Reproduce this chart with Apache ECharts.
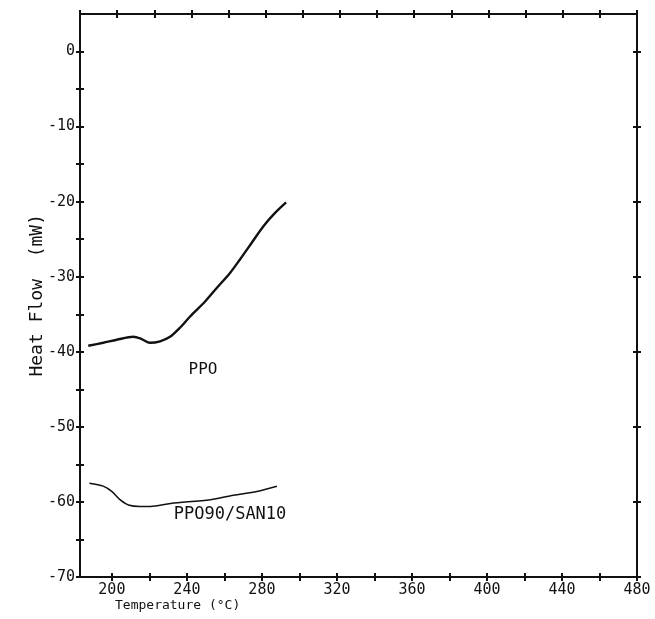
<!DOCTYPE html>
<html>
<head>
<meta charset="utf-8">
<script src="https://cdn.jsdelivr.net/npm/echarts@6/dist/echarts.min.js"></script>
<style>
html,body{margin:0;padding:0;background:#fff;}
#chart{width:655px;height:619px;}
</style>
</head>
<body>
<div id="chart"></div>
<script>
// ---- data ----
const ppoTemp = [187.4, 195.4, 202.6, 211.4, 215.9, 220.3, 225.7, 231.0, 236.3, 241.7, 249.7, 255.9, 263.0, 268.3, 274.5, 280.7, 287.0, 292.9];
const ppoFlow = [-39.2, -38.8, -38.4, -38.0, -38.3, -38.8, -38.6, -38.0, -36.8, -35.3, -33.3, -31.5, -29.5, -27.7, -25.5, -23.3, -21.5, -20.1];
const blendTemp = [188.0, 195.4, 199.9, 204.3, 208.8, 215.0, 220.6, 231.3, 252.6, 264.8, 277.3, 288.0];
const blendFlow = [-57.5, -57.9, -58.6, -59.7, -60.4, -60.6, -60.6, -60.2, -59.7, -59.1, -58.6, -57.9];
const xLabelValues = [200, 240, 280, 320, 360, 400, 440, 480];
const xTickValues = [200, 220, 240, 260, 280, 300, 320, 340, 360, 380, 400, 420, 440, 460, 480];
const xTopTickValues = [183, 202.8, 222.6, 242.4, 262.2, 282, 301.8, 321.6, 341.4, 361.2, 381, 400.8, 420.6, 440.4, 460.2, 480];
const yLabelValues = [-70, -60, -50, -40, -30, -20, -10, 0];
const yTickValues = [-70, -65, -60, -55, -50, -45, -40, -35, -30, -25, -20, -15, -10, -5, 0];
const yRightTickValues = [-70, -60, -50, -40, -30, -20, -10, 0];
const seriesNames = ['PPO', 'PPO90/SAN10'];
const labelPos = [[248.6, -42.4], [263, -61.7]];
const xRange = [183, 480];
const yRange = [-70, 5];

const font = 'DejaVu Sans Mono';
const ink = '#111';

function pairs(xs, ys) { return xs.map((x, i) => [x, ys[i]]); }

function xAx(pos, inside, showLine, ticks, labels) {
  return {
    type: 'value', position: pos, min: xRange[0], max: xRange[1],
    axisLine: { show: showLine, onZero: false, lineStyle: { color: ink, width: 2 } },
    axisTick: { show: true, inside: inside, length: 4, customValues: ticks, lineStyle: { color: ink, width: 2 } },
    axisLabel: labels ? { show: true, customValues: labels, color: ink, fontFamily: font, fontSize: 15, margin: 6 } : { show: false },
    splitLine: { show: false }
  };
}
function yAx(pos, inside, showLine, ticks, labels) {
  return {
    type: 'value', position: pos, min: yRange[0], max: yRange[1],
    axisLine: { show: showLine, onZero: false, lineStyle: { color: ink, width: 2 } },
    axisTick: { show: true, inside: inside, length: 4, customValues: ticks, lineStyle: { color: ink, width: 2 } },
    axisLabel: labels ? { show: true, customValues: labels, color: ink, fontFamily: font, fontSize: 15, margin: 5 } : { show: false },
    splitLine: { show: false }
  };
}

function seriesLabel(name, pos, size) {
  return {
    symbol: 'circle', symbolSize: 1, itemStyle: { color: 'rgba(0,0,0,0)' },
    data: [{ coord: pos, label: { show: true, position: 'inside', formatter: name, color: ink, fontFamily: font, fontSize: size } }]
  };
}

const chart = echarts.init(document.getElementById('chart'), null, { renderer: 'canvas' });
chart.setOption({
  backgroundColor: '#fff',
  animation: false,
  grid: { left: 80, right: 18, top: 14, bottom: 42, containLabel: false },
  xAxis: [
    xAx('bottom', false, true, xTickValues, xLabelValues),
    xAx('bottom', true, false, xTickValues, null),
    xAx('top', false, true, xTopTickValues, null),
    xAx('top', true, false, xTopTickValues, null)
  ],
  yAxis: [
    yAx('left', false, true, yTickValues, yLabelValues),
    yAx('left', true, false, yTickValues, null),
    yAx('right', false, true, yRightTickValues, null),
    yAx('right', true, false, yRightTickValues, null)
  ],
  graphic: [
    { type: 'text', left: 115, top: 599, style: { text: 'Temperature (°C)', fill: ink, font: '13px "DejaVu Sans Mono"' } },
    { type: 'text', left: 28, top: 214, rotation: Math.PI / 2, originX: 0, originY: 0,
      style: { text: 'Heat Flow  (mW)', fill: ink, font: '18px "DejaVu Sans Mono"' } }
  ],
  series: [
    {
      name: seriesNames[0], type: 'line', xAxisIndex: 0, yAxisIndex: 0,
      data: pairs(ppoTemp, ppoFlow), smooth: 0.3, showSymbol: false,
      lineStyle: { color: ink, width: 2.4 },
      markPoint: seriesLabel(seriesNames[0], labelPos[0], 16)
    },
    {
      name: seriesNames[1], type: 'line', xAxisIndex: 0, yAxisIndex: 0,
      data: pairs(blendTemp, blendFlow), smooth: 0.3, showSymbol: false,
      lineStyle: { color: ink, width: 1.5 },
      markPoint: seriesLabel(seriesNames[1], labelPos[1], 17)
    }
  ]
});
</script>
</body>
</html>
